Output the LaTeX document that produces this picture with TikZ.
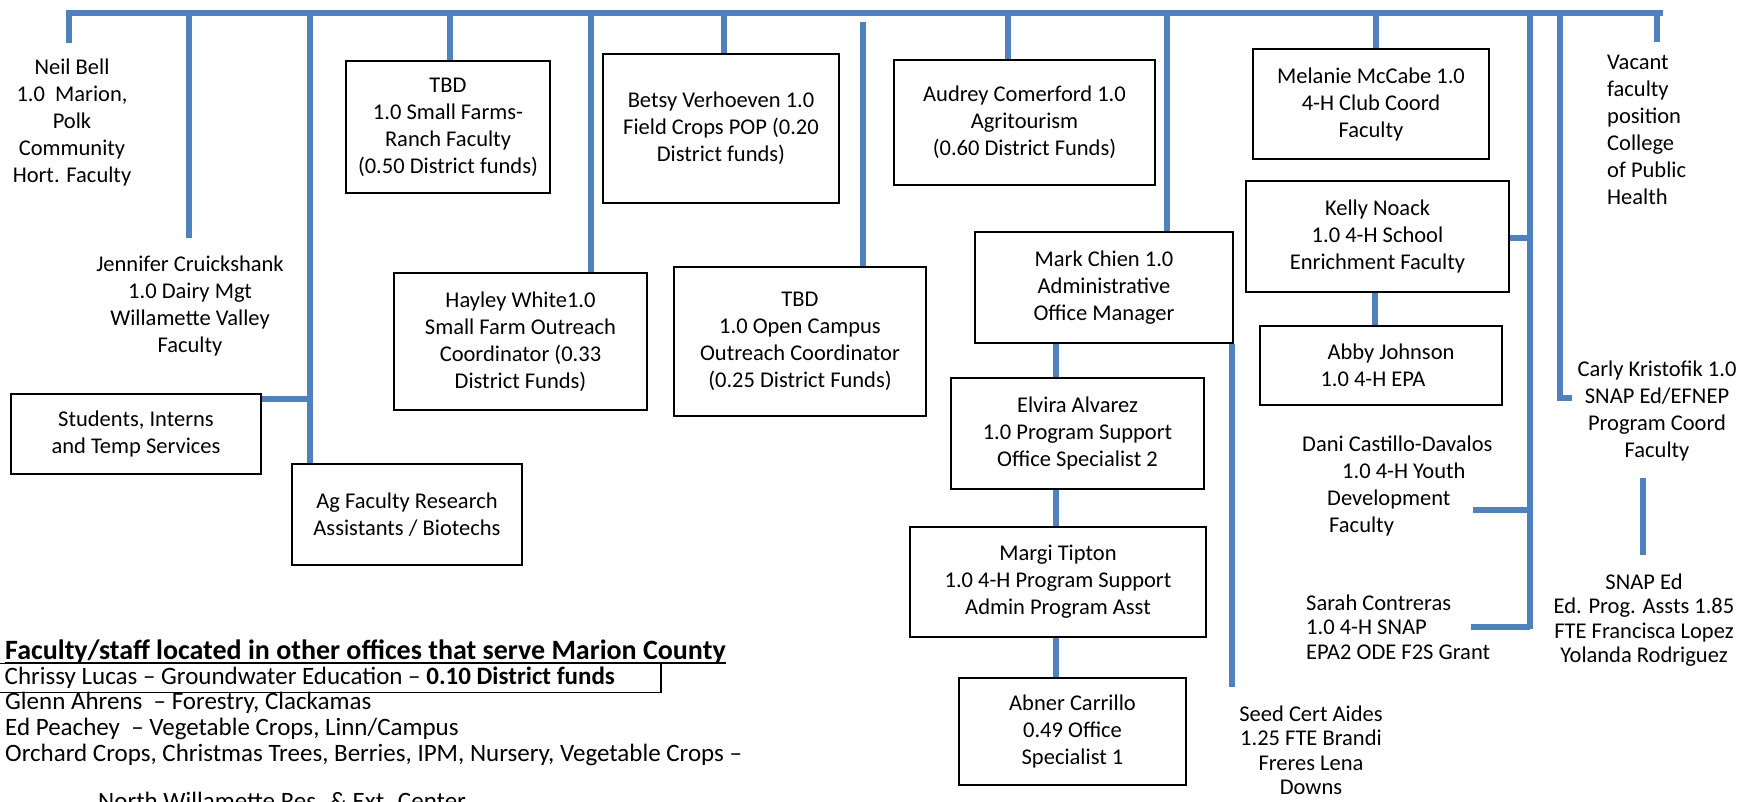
\documentclass[tikz,border=0pt]{standalone}
\usepackage{fontspec}
\setmainfont{Carlito}
\definecolor{lineblue}{HTML}{4F81BD}
\newcommand\chartfont{\fontsize{22.5}{27}\selectfont}
\newcommand\tightfont{\fontsize{22.5}{24.5}\selectfont}
\newcommand\listfont{\fontsize{25}{25.5}\selectfont}
\newcommand\headfont{\fontsize{28}{28}\selectfont}
\newcommand\headul[1]{\setbox0\hbox{#1}\rlap{\rule[-4.5pt]{\wd0}{1.7pt}}\box0}
\begin{document}
\begin{tikzpicture}[x=1pt,y=-1pt,
  conn/.style={draw=lineblue,line width=5.5pt},
  box/.style={draw=black,line width=1.8pt,inner sep=0pt,align=center,font=\chartfont},
  txt/.style={inner sep=0pt,align=center,font=\chartfont},
  ltxt/.style={inner sep=0pt,align=left,font=\chartfont},
  listline/.style={inner sep=0pt,anchor=base west,font=\listfont}]
\useasboundingbox (0,0) rectangle (1743,801);
\fill[white] (0,0) rectangle (1743,801);

% ---------- boxes ----------
\node[box,minimum width=250pt,minimum height=80pt] (students) at (136,434) {Students, Interns\\and Temp Services};
\node[box,minimum width=230pt,minimum height=101pt] (ag) at (407,514.5) {Ag Faculty Research\\Assistants / Biotechs};
\node[box,minimum width=204pt,minimum height=132pt] (tbdsf) at (448,127) {TBD\\1.0 Small Farms-\\Ranch Faculty\\(0.50 District funds)};
\node[box,minimum width=253pt,minimum height=137pt] (hayley) at (520.5,341.5) {Hayley White1.0\\Small Farm Outreach\\Coordinator (0.33\\District Funds)};
\node[box,minimum width=236pt,minimum height=149pt] (betsy) at (721,128.5) {Betsy Verhoeven 1.0\\Field Crops POP (0.20\\District funds)};
\node[box,minimum width=252pt,minimum height=149pt] (tbdoc) at (800,341.5) {TBD\\1.0 Open Campus\\Outreach Coordinator\\(0.25 District Funds)};
\node[box,minimum width=261pt,minimum height=125pt] (audrey) at (1024.5,122.5) {Audrey Comerford 1.0\\Agritourism\\(0.60 District Funds)};
\node[box,minimum width=258pt,minimum height=111pt] (mark) at (1104,287.5) {Mark Chien 1.0\\Administrative\\Office Manager};
\node[box,minimum width=253pt,minimum height=111pt] (elvira) at (1077.5,433.5) {Elvira Alvarez\\1.0 Program Support\\Office Specialist 2};
\node[box,minimum width=296pt,minimum height=110pt] (margi) at (1058,582) {Margi Tipton\\1.0 4-H Program Support\\Admin Program Asst};
\node[box,minimum width=227pt,minimum height=107pt] (abner) at (1072.5,731.5) {Abner Carrillo\\0.49 Office\\Specialist 1};
\node[box,minimum width=236pt,minimum height=110pt] (melanie) at (1371,104) {Melanie McCabe 1.0\\4-H Club Coord\\Faculty};
\node[box,minimum width=263pt,minimum height=111pt] (kelly) at (1377.5,236.5) {Kelly Noack\\1.0 4-H School\\Enrichment Faculty};
\node[box,align=left,minimum width=242pt,minimum height=79pt] (abby) at (1381,365.5) {\hspace*{20pt}Abby Johnson\\\hspace*{13pt}1.0 4-H EPA};

% ---------- free text ----------
\node[txt] (neil) at (72,122.5) {Neil Bell\\1.0~~Marion,\\Polk\\Community\\Hort. Faculty};
\node[txt] (jennifer) at (190,306) {Jennifer Cruickshank\\1.0 Dairy Mgt\\Willamette Valley\\Faculty};
\node[ltxt,anchor=west] (vacant) at (1607,130) {Vacant\\faculty\\position\\College\\of Public\\Health};
\node[txt] (carly) at (1657,411) {Carly Kristofik 1.0\\SNAP Ed/EFNEP\\Program Coord\\Faculty};
\node[txt,font=\tightfont] (snap) at (1644,620) {SNAP Ed\\Ed. Prog. Assts 1.85\\FTE Francisca Lopez\\Yolanda Rodriguez};
\node[ltxt,anchor=west] (dani) at (1302,486) {Dani Castillo-Davalos\\\hspace*{40pt}1.0 4-H Youth\\\hspace*{25pt}Development\\\hspace*{27pt}Faculty};
\node[ltxt,anchor=west,font=\tightfont] (sarah) at (1306,627) {Sarah Contreras\\1.0 4-H SNAP\\EPA2 ODE F2S Grant};
\node[txt,font=\tightfont] (seed) at (1311,750.5) {Seed Cert Aides\\1.25 FTE Brandi\\Freres Lena\\Downs};

% ---------- bottom-left list ----------
\node[inner sep=0pt,anchor=base west,font=\headfont\bfseries] (head) at (5,659) {\headul{Faculty/staff located in other offices that serve Marion County}};
\node[draw=black,line width=1.5pt,anchor=west,text width=650pt,inner xsep=6pt,inner ysep=0pt,minimum height=29pt,align=flush left,font=\listfont] (chrissy) at (-2,678) {Chrissy Lucas -- Groundwater Education -- \textbf{0.10 District funds}};
\node[listline] (glenn) at (5,709) {Glenn Ahrens~~-- Forestry, Clackamas};
\node[listline] (ed) at (5,735) {Ed Peachey~~-- Vegetable Crops, Linn/Campus};
\node[listline] (orchard) at (5,761) {Orchard Crops, Christmas Trees, Berries, IPM, Nursery, Vegetable Crops --};
\node[listline] (north) at (98,809) {North Willamette Res. \& Ext. Center};

% ---------- connectors ----------
\coordinate (barL) at (66,13);
\coordinate (barR) at (1663,13);
\draw[conn] (barL) -- (barR);

\coordinate (dNeil) at (69,13);
\coordinate (dJen) at (189,13);
\coordinate (dAg) at (310,13);
\coordinate (dSF) at (450,13);
\coordinate (dHay) at (591,13);
\coordinate (dBet) at (724,13);
\coordinate (dOC) at (863,22);
\coordinate (dAud) at (1008,13);
\coordinate (dMark) at (1167,13);
\coordinate (dMel) at (1376,13);
\coordinate (dA) at (1530,13);
\coordinate (dB) at (1560,13);
\coordinate (dVac) at (1657,13);

\draw[conn] (dNeil) -- ++(0,30);
\draw[conn] (dJen) -- ++(0,225);
\draw[conn] (dAg) -- (dAg |- ag.north);
\draw[conn] (students.east |- 0,399) -- (dAg |- 0,399);
\draw[conn] (dSF) -- (dSF |- tbdsf.north);
\draw[conn] (dHay) -- (dHay |- hayley.north);
\draw[conn] (dBet) -- (dBet |- betsy.north);
\draw[conn] (dOC) -- (dOC |- tbdoc.north);
\draw[conn] (dAud) -- (dAud |- audrey.north);
\draw[conn] (dMark) -- (dMark |- mark.north);
\coordinate (cAdm) at (1056,0);
\draw[conn] (mark.south -| cAdm) -- (elvira.north -| cAdm);
\draw[conn] (elvira.south -| cAdm) -- (margi.north -| cAdm);
\draw[conn] (margi.south -| cAdm) -- (abner.north -| cAdm);
\coordinate (cSeed) at (1232,687);
\draw[conn] (mark.south -| cSeed) -- (cSeed);
\draw[conn] (dMel) -- (dMel |- melanie.north);
\draw[conn] (dA) -- (1530,629);
\draw[conn] (kelly.east |- 0,238) -- (dA |- 0,238);
\coordinate (dDani) at (1473,510);
\draw[conn] (dDani) -- (dA |- dDani);
\coordinate (dSarah) at (1471,627);
\draw[conn] (dSarah) -- (dA |- dSarah);
\coordinate (cKA) at (1375,0);
\draw[conn] (kelly.south -| cKA) -- (abby.north -| cKA);
\coordinate (cCarly) at (1572,398);
\draw[conn] (dB) -- (dB |- cCarly) -- (cCarly);
\draw[conn] (dVac) -- ++(0,29);
\coordinate (cSnapT) at (1643,478);
\coordinate (cSnapB) at (1643,555);
\draw[conn] (cSnapT) -- (cSnapB);
\end{tikzpicture}
\end{document}
